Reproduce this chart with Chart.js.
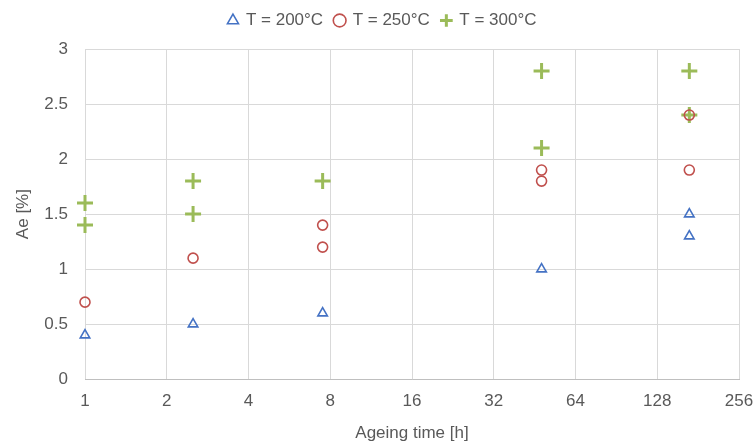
<!DOCTYPE html>
<html>
<head>
<meta charset="utf-8">
<script src="https://cdn.jsdelivr.net/npm/chart.js@4"></script>
<style>
  html, body { margin: 0; padding: 0; background: #fff; }
  #wrap { width: 756px; height: 442px; }
</style>
</head>
<body>
<div id="wrap"><canvas id="myChart" width="756" height="442"></canvas></div>
<script>
// ageing time [h] and Ae [%]
const t200x = [1, 2.5, 7.5, 48, 168, 168];
const t200y = [0.4, 0.5, 0.6, 1.0, 1.3, 1.5];

const t250x = [1, 2.5, 7.5, 7.5, 48, 48, 168, 168];
const t250y = [0.7, 1.1, 1.2, 1.4, 1.8, 1.9, 1.9, 2.4];

const t300x = [1, 1, 2.5, 2.5, 7.5, 48, 48, 168, 168];
const t300y = [1.4, 1.6, 1.5, 1.8, 1.8, 2.1, 2.8, 2.4, 2.8];

const xTicks = [1, 2, 4, 8, 16, 32, 64, 128, 256];
const yTicks = [0, 0.5, 1, 1.5, 2, 2.5, 3];

const toPts = (xs, ys) => xs.map((x, i) => ({ x: x, y: ys[i] }));

const textColor = '#595959';
const gridColor = '#d9d9d9';
const fontFamily = 'Arial, "Liberation Sans", sans-serif';

const data = {
    datasets: [{
        label: 'T = 200°C',
        data: toPts(t200x, t200y),
        pointStyle: 'triangle',
        radius: 5.5,
        borderWidth: 1.6,
        borderColor: '#4472c4',
        backgroundColor: 'rgba(0,0,0,0)',
        clip: false
    }, {
        label: 'T = 250°C',
        data: toPts(t250x, t250y),
        pointStyle: 'circle',
        radius: 5,
        borderWidth: 1.6,
        borderColor: '#c0504d',
        backgroundColor: 'rgba(0,0,0,0)',
        clip: false
    }, {
        label: 'T = 300°C',
        data: toPts(t300x, t300y),
        pointStyle: 'cross',
        radius: 8,
        borderWidth: 3,
        borderColor: '#9bbb59',
        backgroundColor: '#9bbb59',
        clip: false
    }]
};

// extra room under the legend
const legendGap = {
    id: 'legendGap',
    beforeInit(chart) {
        const fit = chart.legend.fit;
        chart.legend.fit = function () {
            fit.bind(chart.legend)();
            this.height += 10;
        };
    }
};

const config = {
    type: 'scatter',
    data: data,
    plugins: [legendGap],
    options: {
        responsive: false,
        animation: false,
        layout: { padding: { left: 9, right: 0, top: 0, bottom: -2 } },
        plugins: {
            legend: {
                position: 'top',
                labels: {
                    usePointStyle: true,
                    boxWidth: 9,
                    boxHeight: 9,
                    padding: 12,
                    color: textColor,
                    font: { family: fontFamily, size: 17 }
                }
            },
            tooltip: { enabled: false }
        },
        scales: {
            x: {
                type: 'logarithmic',
                min: 1,
                max: 256,
                afterBuildTicks: (scale) => {
                    scale.ticks = xTicks.map(v => ({ value: v }));
                },
                afterFit: (scale) => {
                    scale.paddingRight = 17;
                },
                ticks: {
                    color: textColor,
                    font: { family: fontFamily, size: 17 },
                    padding: 12,
                    maxRotation: 0,
                    callback: (v) => String(v)
                },
                grid: { color: gridColor, drawTicks: false },
                border: { color: '#bfbfbf' },
                title: {
                    display: true,
                    text: 'Ageing time [h]',
                    color: textColor,
                    font: { family: fontFamily, size: 17 },
                    padding: { top: 0, bottom: 0 }
                }
            },
            y: {
                min: 0,
                max: 3,
                afterBuildTicks: (scale) => {
                    scale.ticks = yTicks.map(v => ({ value: v }));
                },
                afterFit: (scale) => {
                    scale.width = 76;
                },
                ticks: {
                    color: textColor,
                    font: { family: fontFamily, size: 17 },
                    padding: 17,
                    callback: (v) => String(v)
                },
                grid: { color: gridColor, drawTicks: false },
                border: { display: false },
                title: {
                    display: true,
                    text: 'Ae [%]',
                    color: textColor,
                    font: { family: fontFamily, size: 17 },
                    padding: { top: 4, bottom: 4 }
                }
            }
        }
    }
};

const myChart = new Chart(
    document.getElementById('myChart'),
    config
);
</script>
</body>
</html>
